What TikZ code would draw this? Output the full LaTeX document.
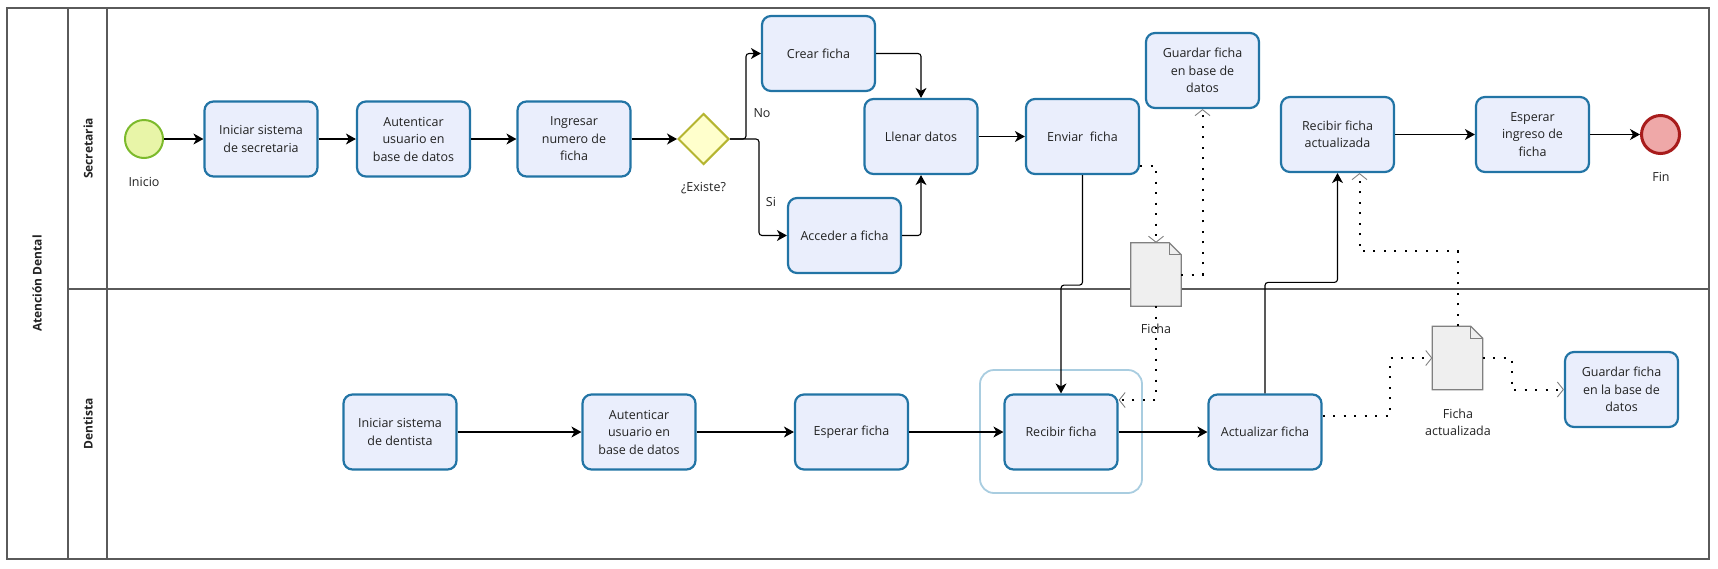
\documentclass[tikz,border=0pt]{standalone}
\usepackage{fontspec}
\setmainfont{Open Sans}
\usetikzlibrary{arrows.meta,shapes.geometric}
\definecolor{taskfill}{HTML}{EAEEFC}
\definecolor{taskline}{HTML}{2274A5}
\definecolor{txt}{HTML}{222222}
\definecolor{startfill}{HTML}{E8F5A8}
\definecolor{startline}{HTML}{7CBA2C}
\definecolor{endfill}{HTML}{EFA8A8}
\definecolor{endline}{HTML}{A81C1C}
\definecolor{gwfill}{HTML}{FFFFCC}
\definecolor{gwline}{HTML}{B5B531}
\definecolor{docfill}{HTML}{EFEFEF}
\definecolor{docline}{HTML}{808080}
\definecolor{grpline}{HTML}{A9CDE0}
\definecolor{poolline}{HTML}{5A5A5A}
\begin{document}
\begin{tikzpicture}[x=1pt,y=-1pt,
  font=\fontsize{12.5}{17.5}\selectfont,
  task/.style={draw=taskline, fill=taskfill, line width=2.2pt, rounded corners=9pt,
    minimum width=113pt, minimum height=75pt, inner sep=0pt, align=center, text=txt},
  startev/.style={circle, draw=startline, fill=startfill, line width=2pt, minimum size=38pt, inner sep=0pt},
  endev/.style={circle, draw=endline, fill=endfill, line width=3pt, minimum size=38pt, inner sep=0pt},
  gw/.style={diamond, draw=gwline, fill=gwfill, line width=2pt, minimum width=51pt, minimum height=51pt, inner sep=0pt},
  docbox/.style={minimum width=50pt, minimum height=63pt, inner sep=0pt},
  docshape/.style={draw=docline, fill=docfill, line width=1.2pt},
  grpbox/.style={draw=grpline, line width=1.8pt, rounded corners=14pt, minimum width=162pt, minimum height=123pt, inner sep=0pt},
  lbl/.style={text=txt, inner sep=1pt, align=center},
  lane/.style={rotate=90, font=\fontsize{12}{14}\selectfont\bfseries, text=txt},
  flow/.style={draw=black, line width=1.1pt, rounded corners=3pt, -{Stealth[length=10pt,width=11pt,inset=3pt]}},
  assoc/.style={draw=black, line width=2pt, dash pattern=on 2pt off 8.5pt,
    -{Straight Barb[length=6pt,width=15pt,line width=0.9pt,color=gray]}}
]
\useasboundingbox (0,0) rectangle (1718,568);
% pool and lanes
\draw[poolline, line width=1.3pt] (7,8) rectangle (1709,559);
\draw[poolline, line width=1.3pt] (68,8) -- (68,559);
\draw[poolline, line width=1.3pt] (107,8) -- (107,559);
\draw[poolline, line width=1.3pt] (68,289) -- (1709,289);
\node[lane] (pool) at (37,283.5) {Atención Dental};
\node[lane] (lsec) at (88,148.5) {Secretaria};
\node[lane] (lden) at (88,424) {Dentista};

% Secretaria lane
\node[startev] (inicio) at (144,139) {};
\node[lbl] (linicio) at (144,182) {Inicio};
\node[task] (iniSec) at (261,139) {Iniciar sistema\\de secretaria};
\node[task] (aut1) at (413.5,139) {Autenticar\\usuario en\\base de datos};
\node[task] (ingr) at (574,139) {Ingresar\\numero de\\ficha};
\node[gw] (gw) at (703.5,139) {};
\node[lbl] (lgw) at (703.5,188) {¿Existe?};
\node[task] (crear) at (818.5,53.5) {Crear ficha};
\node[task] (acc) at (844.5,235.5) {Acceder a ficha};
\node[task] (llenar) at (921,136.5) {Llenar datos};
\node[task] (enviar) at (1082.5,136.5) {Enviar\ \ ficha};
\node[task] (gbd1) at (1202.5,70.5) {Guardar ficha\\en base de\\datos};
\node[task] (recact) at (1337.5,134.5) {Recibir ficha\\actualizada};
\node[task] (espIng) at (1532.5,134.5) {Esperar\\ingreso de\\ficha};
\node[endev] (fin) at (1660.5,134.5) {};
\node[lbl] (lfin) at (1661,177) {Fin};
\node[lbl] (lno) at (762,113) {No};
\node[lbl] (lsi) at (771,202) {Si};

% Dentista lane
\node[task] (iniDen) at (400,432) {Iniciar sistema\\de dentista};
\node[task] (aut2) at (639,432) {Autenticar\\usuario en\\base de datos};
\node[task] (esp) at (851.5,432) {Esperar ficha};
\node[grpbox] (grp) at (1061,431.5) {};
\node[task] (recibir) at (1061,432) {Recibir ficha};
\node[task] (actual) at (1265,432) {Actualizar ficha};
\node[task] (gbd2) at (1621.5,389.5) {Guardar ficha\\en la base de\\datos};

% data objects
\node[docbox] (ficha) at (1156,274.5) {};
\draw[docshape] (ficha.south west) -- (ficha.north west) -- ([xshift=-12pt]ficha.north east)
  -- ([yshift=-12pt]ficha.north east) -- (ficha.south east) -- cycle;
\draw[docline, line width=1pt] ([xshift=-12pt]ficha.north east) -- ([xshift=-12pt,yshift=-12pt]ficha.north east) -- ([yshift=-12pt]ficha.north east);
\node[docbox] (factual) at (1457.5,358) {};
\draw[docshape] (factual.south west) -- (factual.north west) -- ([xshift=-12pt]factual.north east)
  -- ([yshift=-12pt]factual.north east) -- (factual.south east) -- cycle;
\draw[docline, line width=1pt] ([xshift=-12pt]factual.north east) -- ([xshift=-12pt,yshift=-12pt]factual.north east) -- ([yshift=-12pt]factual.north east);

% sequence flows
\draw[flow] (inicio) -- (iniSec);
\draw[flow] (iniSec) -- (aut1);
\draw[flow] (aut1) -- (ingr);
\draw[flow] (ingr) -- (gw);
\draw[flow] (gw.east) -- ++(16,0) |- (crear.west);
\draw[flow] (gw.east) -- ++(29,0) |- (acc.west);
\draw[flow] (crear.east) -| (llenar.north);
\draw[flow] (acc.east) -| (llenar.south);
\draw[flow] (llenar) -- (enviar);
\draw[flow] (enviar.south) -- ++(0,110) -| (recibir.north);
\draw[flow] (recact) -- (espIng);
\draw[flow] (espIng) -- (fin);
\draw[flow] (iniDen) -- (aut2);
\draw[flow] (aut2) -- (esp);
\draw[flow] (esp) -- (recibir);
\draw[flow] (recibir) -- (actual);
\draw[flow] (actual.north) -- ++(0,-111) -| (recact.south);

% associations
\draw[assoc] ([yshift=9pt]enviar.south east) -| (ficha.north);
\draw[assoc] (ficha.east) -| (gbd1.south);
\draw[assoc] (ficha.south) |- ([yshift=32pt]recibir.east);
\draw[assoc] ([yshift=16pt]actual.east) -- ++(67,0) |- (factual.west);
\draw[assoc] (factual.east) -- ++(29,0) |- (gbd2.west);
\draw[assoc] (factual.north) -- ++(0,-75) -| ([xshift=22pt]recact.south);

% labels of data objects
\node[lbl] (lficha) at (1156,329) {Ficha};
\node[lbl] (lfact) at (1458,422.5) {Ficha\\actualizada};
\end{tikzpicture}
\end{document}
